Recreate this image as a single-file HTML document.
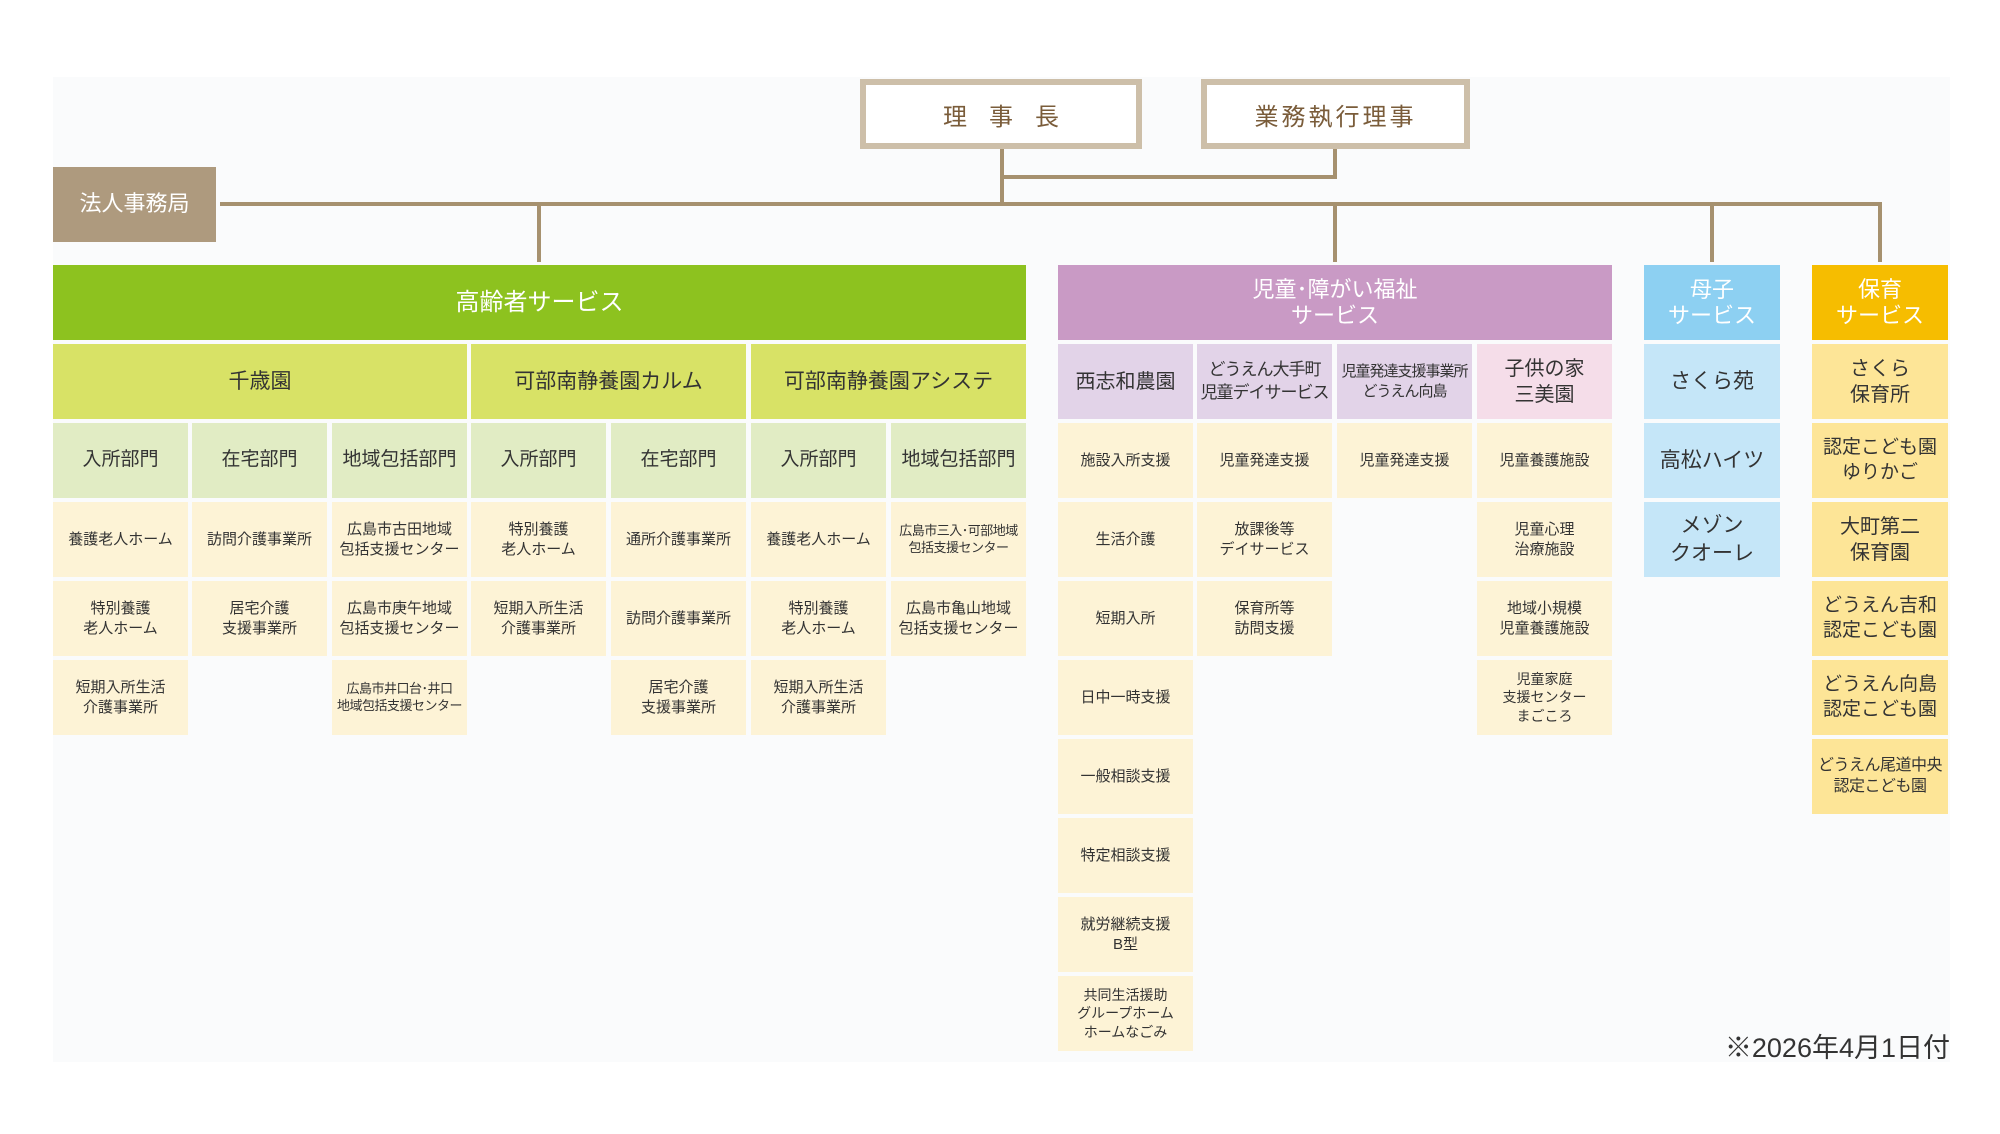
<!DOCTYPE html>
<html lang="ja"><head><meta charset="utf-8">
<style>
html,body{margin:0;padding:0;background:#fff;}
#w{position:relative;width:2000px;height:1134px;overflow:hidden;background:#fff;font-family:"Liberation Sans","Noto Sans CJK JP",sans-serif;color:#333;}
.bg{position:absolute;left:53px;top:77px;width:1897px;height:985px;background:#fafbfc;}
.c{position:absolute;display:flex;align-items:center;justify-content:center;text-align:center;width:135px;height:75px;line-height:1.3;font-size:15px;background:#fdf3d6;box-sizing:border-box;white-space:nowrap;}
.ln{position:absolute;background:#a6916f;}
.hd{color:#fff;font-size:24px;}
.r2{font-size:21px;}
.r3{font-size:19px;background:#e1ecc4;}
.e2{background:#d8e266;}
.k2{background:#e2d3e8;font-size:17px;letter-spacing:-1px;}
.m{background:#c5e6f8;font-size:21px;width:136px;}
.h{background:#fde597;font-size:20px;width:136px;}
.top{position:absolute;box-sizing:border-box;border:6px solid #cdbfa9;background:#fff;display:flex;align-items:center;justify-content:center;color:#7a5c3a;font-size:24px;}
</style></head><body><div id="w">
<div class="bg"></div>

<div class="top" style="left:860px;top:79px;width:282px;height:70px;letter-spacing:22px;padding-left:22px;">理事長</div>
<div class="top" style="left:1201px;top:79px;width:269px;height:70px;letter-spacing:3px;">業務執行理事</div>

<div class="ln" style="left:1000px;top:149px;width:4px;height:57px;"></div>
<div class="ln" style="left:1000px;top:175px;width:337px;height:4px;"></div>
<div class="ln" style="left:1333px;top:149px;width:4px;height:30px;"></div>
<div class="ln" style="left:220px;top:202px;width:1662px;height:4px;"></div>
<div class="ln" style="left:537px;top:202px;width:4px;height:60px;"></div>
<div class="ln" style="left:1333px;top:202px;width:4px;height:60px;"></div>
<div class="ln" style="left:1710px;top:202px;width:4px;height:60px;"></div>
<div class="ln" style="left:1878px;top:202px;width:4px;height:60px;"></div>

<div class="c" style="left:53px;top:167px;width:163px;height:75px;background:#ae9a7e;color:#fff;font-size:22px;">法人事務局</div>

<div class="c hd" style="left:53px;top:265px;width:973px;background:#8dc21f;">高齢者サービス</div>
<div class="c hd" style="left:1058px;top:265px;width:554px;background:#c99ac5;font-size:22px;line-height:1.15;">児童･障がい福祉<br>サービス</div>
<div class="c hd" style="left:1644px;top:265px;width:136px;background:#8dd0f2;font-size:22px;line-height:1.15;">母子<br>サービス</div>
<div class="c hd" style="left:1812px;top:265px;width:136px;background:#f6bd00;font-size:22px;line-height:1.15;">保育<br>サービス</div>

<div class="c r2 e2" style="left:53px;top:344px;width:414px;">千歳園</div>
<div class="c r2 e2" style="left:471px;top:344px;width:275px;">可部南静養園カルム</div>
<div class="c r2 e2" style="left:751px;top:344px;width:275px;">可部南静養園アシステ</div>

<div class="c r3" style="left:53px;top:423px;">入所部門</div>
<div class="c r3" style="left:192px;top:423px;">在宅部門</div>
<div class="c r3" style="left:332px;top:423px;">地域包括部門</div>
<div class="c r3" style="left:471px;top:423px;">入所部門</div>
<div class="c r3" style="left:611px;top:423px;">在宅部門</div>
<div class="c r3" style="left:751px;top:423px;">入所部門</div>
<div class="c r3" style="left:891px;top:423px;">地域包括部門</div>

<div class="c" style="left:53px;top:502px;">養護老人ホーム</div>
<div class="c" style="left:53px;top:581px;">特別養護<br>老人ホーム</div>
<div class="c" style="left:53px;top:660px;">短期入所生活<br>介護事業所</div>
<div class="c" style="left:192px;top:502px;">訪問介護事業所</div>
<div class="c" style="left:192px;top:581px;">居宅介護<br>支援事業所</div>
<div class="c" style="left:332px;top:502px;">広島市古田地域<br>包括支援センター</div>
<div class="c" style="left:332px;top:581px;">広島市庚午地域<br>包括支援センター</div>
<div class="c" style="left:332px;top:660px;font-size:13px;letter-spacing:-0.5px;">広島市井口台･井口<br>地域包括支援センター</div>
<div class="c" style="left:471px;top:502px;">特別養護<br>老人ホーム</div>
<div class="c" style="left:471px;top:581px;">短期入所生活<br>介護事業所</div>
<div class="c" style="left:611px;top:502px;">通所介護事業所</div>
<div class="c" style="left:611px;top:581px;">訪問介護事業所</div>
<div class="c" style="left:611px;top:660px;">居宅介護<br>支援事業所</div>
<div class="c" style="left:751px;top:502px;">養護老人ホーム</div>
<div class="c" style="left:751px;top:581px;">特別養護<br>老人ホーム</div>
<div class="c" style="left:751px;top:660px;">短期入所生活<br>介護事業所</div>
<div class="c" style="left:891px;top:502px;font-size:13px;letter-spacing:-0.5px;">広島市三入･可部地域<br>包括支援センター</div>
<div class="c" style="left:891px;top:581px;">広島市亀山地域<br>包括支援センター</div>

<div class="c k2" style="left:1058px;top:344px;font-size:20px;letter-spacing:0;">西志和農園</div>
<div class="c k2" style="left:1197px;top:344px;">どうえん大手町<br>児童デイサービス</div>
<div class="c k2" style="left:1337px;top:344px;font-size:15px;">児童発達支援事業所<br>どうえん向島</div>
<div class="c k2" style="left:1477px;top:344px;background:#f5dde9;font-size:20px;letter-spacing:0;">子供の家<br>三美園</div>

<div class="c" style="left:1058px;top:423px;">施設入所支援</div>
<div class="c" style="left:1058px;top:502px;">生活介護</div>
<div class="c" style="left:1058px;top:581px;">短期入所</div>
<div class="c" style="left:1058px;top:660px;">日中一時支援</div>
<div class="c" style="left:1058px;top:739px;">一般相談支援</div>
<div class="c" style="left:1058px;top:818px;">特定相談支援</div>
<div class="c" style="left:1058px;top:897px;">就労継続支援<br>B型</div>
<div class="c" style="left:1058px;top:976px;font-size:14px;">共同生活援助<br>グループホーム<br>ホームなごみ</div>
<div class="c" style="left:1197px;top:423px;">児童発達支援</div>
<div class="c" style="left:1197px;top:502px;">放課後等<br>デイサービス</div>
<div class="c" style="left:1197px;top:581px;">保育所等<br>訪問支援</div>
<div class="c" style="left:1337px;top:423px;">児童発達支援</div>
<div class="c" style="left:1477px;top:423px;">児童養護施設</div>
<div class="c" style="left:1477px;top:502px;">児童心理<br>治療施設</div>
<div class="c" style="left:1477px;top:581px;">地域小規模<br>児童養護施設</div>
<div class="c" style="left:1477px;top:660px;font-size:14px;">児童家庭<br>支援センター<br>まごころ</div>

<div class="c m" style="left:1644px;top:344px;">さくら苑</div>
<div class="c m" style="left:1644px;top:423px;">高松ハイツ</div>
<div class="c m" style="left:1644px;top:502px;">メゾン<br>クオーレ</div>

<div class="c h" style="left:1812px;top:344px;">さくら<br>保育所</div>
<div class="c h" style="left:1812px;top:423px;font-size:19px;">認定こども園<br>ゆりかご</div>
<div class="c h" style="left:1812px;top:502px;">大町第二<br>保育園</div>
<div class="c h" style="left:1812px;top:581px;font-size:19px;">どうえん吉和<br>認定こども園</div>
<div class="c h" style="left:1812px;top:660px;font-size:19px;">どうえん向島<br>認定こども園</div>
<div class="c h" style="left:1812px;top:739px;font-size:16px;letter-spacing:-0.5px;">どうえん尾道中央<br>認定こども園</div>

<div style="position:absolute;left:1650px;top:1026px;width:300px;font-size:27px;color:#333;text-align:right;">※2026年4月1日付</div>
</div></body></html>
